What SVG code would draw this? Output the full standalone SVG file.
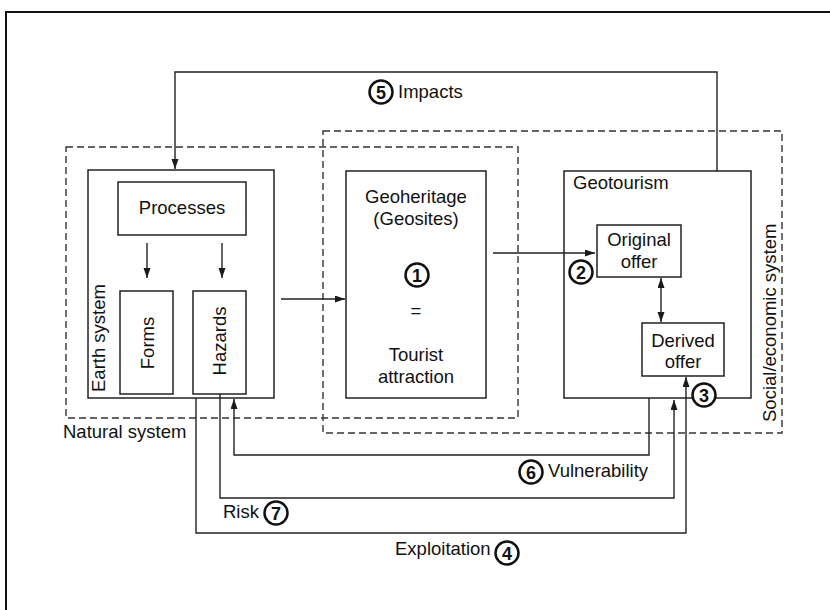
<svg xmlns="http://www.w3.org/2000/svg" width="830" height="610" viewBox="0 0 830 610">
<defs>
<marker id="arr" markerUnits="userSpaceOnUse" markerWidth="11" markerHeight="8" refX="10" refY="3.5" orient="auto-start-reverse">
<path d="M0,0 L10,3.5 L0,7 z" fill="#1a1a1a"/>
</marker>
</defs>
<style>
.box{fill:none;stroke:#222;stroke-width:1.5}
.dash{fill:none;stroke:#333;stroke-width:1.4;stroke-dasharray:7,4}
.con{fill:none;stroke:#222;stroke-width:1.4}
.t{font-family:"Liberation Sans",Arial,sans-serif;font-size:18.5px;fill:#111}
.m{text-anchor:middle}
.num{fill:#fff;stroke:#111;stroke-width:2.5}
.nt{font-family:"Liberation Sans",Arial,sans-serif;font-size:18px;font-weight:bold;text-anchor:middle;fill:#111}
</style>
<rect width="830" height="610" fill="#fff"/>
<path d="M6,610 V12 H830" fill="none" stroke="#111" stroke-width="2"/>

<g id="natural-system">
<rect class="dash" x="66" y="147" width="452" height="271"/>
<text class="t" x="63" y="438">Natural system</text>
</g>
<g id="social-economic-system">
<rect class="dash" x="323" y="131" width="459" height="302"/>
<text class="t" transform="translate(776,422) rotate(-90)">Social/economic system</text>
</g>

<g id="earth-system">
<rect class="box" x="88" y="170" width="186" height="228"/>
<text class="t" transform="translate(105,392) rotate(-90)">Earth system</text>
</g>
<g id="processes">
<rect class="box" x="118" y="182" width="128" height="53"/>
<text class="t m" x="182" y="214">Processes</text>
</g>
<g id="forms">
<rect class="box" x="120" y="291" width="53" height="103"/>
<text class="t m" transform="translate(154,343) rotate(-90)">Forms</text>
</g>
<g id="hazards">
<rect class="box" x="193" y="291" width="53" height="103"/>
<text class="t m" transform="translate(226,341) rotate(-90)">Hazards</text>
</g>
<g id="geoheritage">
<rect class="box" x="346" y="171" width="140" height="227"/>
<text class="t m" x="416" y="203">Geoheritage</text>
<text class="t m" x="416" y="225">(Geosites)</text>
<circle class="num" cx="417" cy="275" r="11.5"/>
<text class="nt" x="417" y="281.5">1</text>
<text class="t m" x="416" y="317">=</text>
<text class="t m" x="416" y="361">Tourist</text>
<text class="t m" x="416" y="383">attraction</text>
</g>
<g id="geotourism">
<rect class="box" x="564" y="171" width="187" height="227"/>
<text class="t" x="573" y="189">Geotourism</text>
</g>
<g id="original-offer">
<rect class="box" x="597" y="225" width="84" height="52"/>
<text class="t m" x="639" y="246">Original</text>
<text class="t m" x="639" y="268">offer</text>
</g>
<g id="derived-offer">
<rect class="box" x="642" y="323" width="82" height="53"/>
<text class="t m" x="683" y="347">Derived</text>
<text class="t m" x="683" y="368">offer</text>
</g>

<g id="connectors">
<path class="con" d="M147,243 V278" marker-end="url(#arr)"/>
<path class="con" d="M222,243 V278" marker-end="url(#arr)"/>
<path class="con" d="M281,299 H345" marker-end="url(#arr)"/>
<path class="con" d="M493,253 H595" marker-end="url(#arr)"/>
<path class="con" d="M661,278 V322" marker-start="url(#arr)" marker-end="url(#arr)"/>
<path class="con" d="M717,171 V72 H175 V169" marker-end="url(#arr)"/>
<path class="con" d="M649,398 V455 H234 V399" marker-end="url(#arr)"/>
<path class="con" d="M220,394 V498 H674 V400" marker-end="url(#arr)"/>
<path class="con" d="M196,398 V533 H686 V377" marker-end="url(#arr)"/>
</g>

<g id="labels">
<circle class="num" cx="581" cy="272" r="11.5"/>
<text class="nt" x="581" y="278.5">2</text>
<circle class="num" cx="704" cy="395" r="11.5"/>
<text class="nt" x="704" y="401.5">3</text>
<circle class="num" cx="381" cy="92" r="11.5"/>
<text class="nt" x="381" y="98.5">5</text>
<text class="t" x="398" y="98">Impacts</text>
<circle class="num" cx="531" cy="472" r="11.5"/>
<text class="nt" x="531" y="478.5">6</text>
<text class="t" x="548" y="477">Vulnerability</text>
<text class="t" x="223" y="518">Risk</text>
<circle class="num" cx="276" cy="513" r="11.5"/>
<text class="nt" x="276" y="519.5">7</text>
<text class="t" x="395" y="555">Exploitation</text>
<circle class="num" cx="507" cy="553" r="11.5"/>
<text class="nt" x="507" y="559.5">4</text>
</g>
</svg>
